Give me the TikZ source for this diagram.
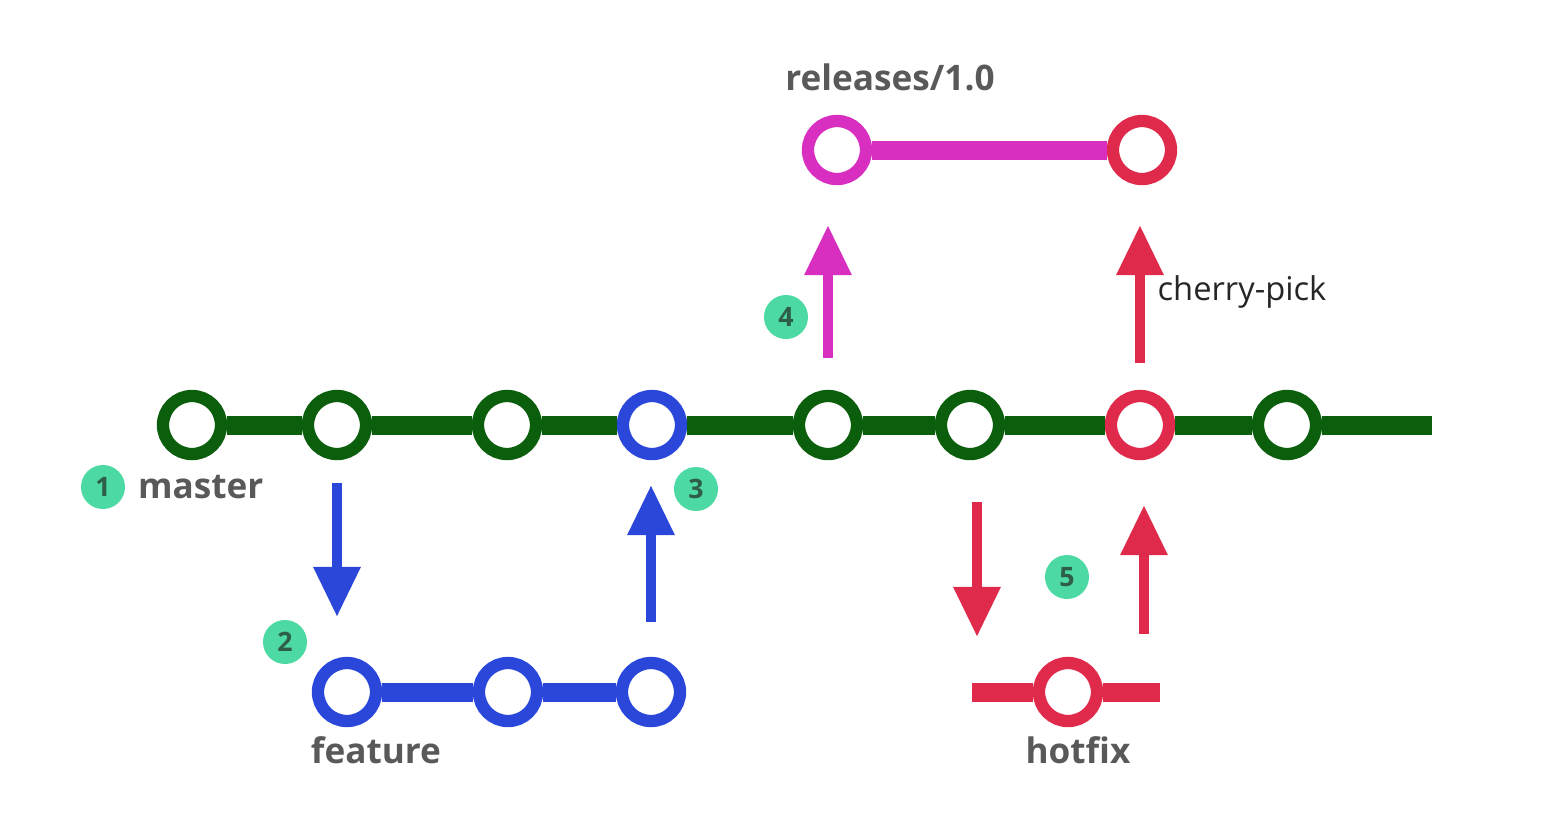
\documentclass[tikz,border=0pt]{standalone}
\usepackage{fontspec}
\setmainfont{Open Sans}
\usetikzlibrary{arrows.meta,positioning}
\definecolor{mastergreen}{HTML}{0B5E0B}
\definecolor{featureblue}{HTML}{2B47D9}
\definecolor{releasemag}{HTML}{D82FC0}
\definecolor{hotfixred}{HTML}{E02A4B}
\definecolor{badgegreen}{HTML}{4CD9A4}
\definecolor{badgetext}{HTML}{2E5E4A}
\definecolor{labelgray}{HTML}{595959}
\tikzset{
  commit/.style  = {draw=#1, circle, line width=3.5pt, fill=white,
                    inner sep=0pt, minimum size=0.58cm},
  branch/.style  = {draw=#1, line width=5.4pt},
  move/.style    = {draw=#1, line width=2.8pt,
                    -{Triangle[length=0.5cm, width=0.45cm]}},
  badge/.style   = {circle, fill=badgegreen, inner sep=0pt, minimum size=0.44cm,
                    text=badgetext, font=\bfseries\fontsize{7.6}{8}\selectfont},
  branchname/.style = {text=labelgray, font=\bfseries\fontsize{10}{12}\selectfont},
}
\begin{document}
\begin{tikzpicture}[x=0.01cm, y=-0.01cm]
\useasboundingbox (0,0) rectangle (1559,838);
% master
\foreach \n/\x/\c in {m1/192/mastergreen, m2/337/mastergreen, m3/507/mastergreen,
                      m4/652/featureblue, m5/828/mastergreen, m6/970/mastergreen,
                      m7/1140/hotfixred, m8/1287/mastergreen}
  \node[commit=\c] (\n) at (\x,425) {};
\coordinate (mend) at (1432,425);
\foreach \a/\b in {m1/m2,m2/m3,m3/m4,m4/m5,m5/m6,m6/m7,m7/m8,m8/mend}
  \draw[branch=mastergreen] (\a) -- (\b);
% feature
\foreach \n/\x in {f1/347, f2/508, f3/651}
  \node[commit=featureblue] (\n) at (\x,692) {};
\foreach \a/\b in {f1/f2,f2/f3}
  \draw[branch=featureblue] (\a) -- (\b);
% releases
\node[commit=releasemag] (r1) at (837,150) {};
\node[commit=hotfixred] (r2) at (1142,150) {};
\draw[branch=releasemag] (r1) -- (r2);
% hotfix
\node[commit=hotfixred] (h1) at (1068,692) {};
\coordinate (hs) at (972,692);
\coordinate (he) at (1160,692);
\draw[branch=hotfixred] (hs) -- (h1);
\draw[branch=hotfixred] (h1) -- (he);
% moves between branches
\draw[move=featureblue, shorten <=0.23cm, shorten >=0.40cm] (m2.south) -- (m2.south |- f1.north);
\draw[move=featureblue, shorten <=0.35cm, shorten >=0.25cm] (f3.north) -- (f3.north |- m4.south);
\draw[move=releasemag, shorten <=0.32cm, shorten >=0.40cm] (m5.north) -- (m5.north |- r1.south);
\draw[move=hotfixred, shorten <=0.27cm, shorten >=0.40cm] (m7.north) -- (m7.north |- r2.south);
\draw[move=hotfixred, shorten <=0.42cm, shorten >=0.20cm] ([xshift=0.07cm]m6.south) -- ([xshift=0.07cm]m6.south |- h1.north);
\draw[move=hotfixred, shorten <=0.23cm, shorten >=0.45cm] ([xshift=0.04cm]m7.south |- h1.north) -- ([xshift=0.04cm]m7.south);
% steps
\node[badge] (b1) at (103,487) {1};
\node[badge] (b2) at (285,642) {2};
\node[badge] (b3) at (696,489) {3};
\node[badge] (b4) at (786,317) {4};
\node[badge] (b5) at (1067,577) {5};
% names
\node[branchname, right=0.0cm of b1] (lmaster) {master};
\node[branchname] (lfeature) at (376,750) {feature};
\node[branchname] (lhotfix) at (1078,750) {hotfix};
\node[branchname] (lrelease) at (890,77) {releases/1.0};
\node[text=black!85, font=\fontsize{9.3}{11}\selectfont] (lcherry) at (1242,292) {cherry-pick};
\end{tikzpicture}
\end{document}
